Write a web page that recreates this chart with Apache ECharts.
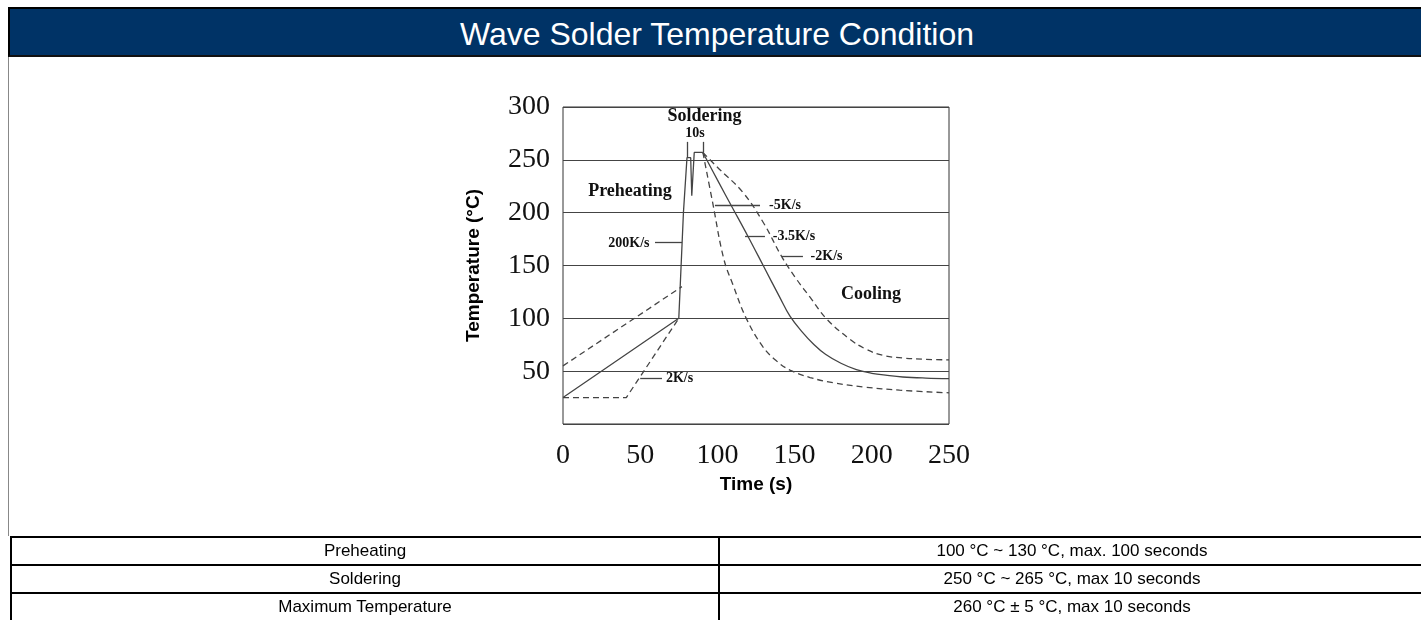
<!DOCTYPE html>
<html>
<head>
<meta charset="utf-8">
<title>Wave Solder Temperature Condition</title>
<script src="https://cdn.jsdelivr.net/npm/echarts/dist/echarts.min.js"></script>
<style>
	body {
		margin: 0;
		width: 1421px;
		height: 620px;
		overflow: hidden;
		background: #ffffff;
		position: relative;
		font-family: 'Liberation Sans', Arial, sans-serif;
	}
	#chart {
		position: absolute;
		left: 0;
		top: 0;
		width: 1421px;
		height: 620px;
	}
	.head {
		position: absolute;
		left: 8px;
		top: 7px;
		width: 1414px;
		height: 44px;
		padding-top: 2px;
		background: #003366;
		border-top: 2px solid #000;
		border-bottom: 2px solid #111;
		border-left: 2px solid #000;
		color: #fff;
		font-size: 32px;
		line-height: 46px;
		text-align: center;
	}
	.side {
		position: absolute;
		left: 8px;
		top: 57px;
		width: 1px;
		height: 479px;
		background: #888;
	}
	.spec {
		position: absolute;
		left: 10px;
		top: 536px;
		width: 1420px;
		border-left: 2px solid #000;
	}
	.spec-row {
		display: flex;
		height: 26px;
		border-top: 2px solid #000;
		font-size: 17px;
		line-height: 26px;
		color: #000;
	}
	.spec-row__name {
		width: 706px;
		border-right: 2px solid #000;
		text-align: center;
	}
	.spec-row__value {
		flex: 1;
		text-align: center;
		padding-right: 8px;
	}
</style>
</head>
<body>
<div id="chart"></div>
<div class="head">Wave Solder Temperature Condition</div>
<div class="side"></div>
<div class="spec" id="spec"></div>

<script>
// axis ticks
const xTicks = [0, 50, 100, 150, 200, 250];
const yTicks = [0, 50, 100, 150, 200, 250, 300];

// profile curves, [time s, temperature °C]
const profileRise = [[0, 25], [75, 100], [78, 200], [80.3, 252], [82.7, 252], [83.4, 216], [84.4, 216], [85, 257], [90.6, 257]];
const coolingMid = [[90.6, 257], [100, 231], [110, 204], [120, 177], [130, 149], [140, 121], [147, 102], [155, 87], [162, 76],
	[170, 66], [180, 57.5], [190, 51.5], [200, 48], [210, 46], [220, 44.5], [235, 43.5], [250, 43]];
const preheatUpper = [[0, 55], [77, 130]];
const preheatLower = [[0, 25], [41, 25], [75, 100]];
const coolingFast = [[90.6, 257], [97, 209], [104, 157], [110, 132], [119, 99], [129.5, 73], [138, 60], [147, 51],
	[160, 44], [175, 39], [195, 35], [218, 32], [250, 29.5]];
const coolingSlow = [[90.6, 257], [100, 243], [116.6, 219], [130, 190], [141.8, 158], [151.5, 136.5], [160, 120],
	[171, 99], [186, 80], [196, 71], [207, 65], [220, 62.5], [235, 61.2], [250, 60.7]];

// "10s" bracket ticks and label leader lines
const tenSecondTicks = [[[80.3, 252], [80.3, 267]], [[90.6, 257], [90.6, 267]]];
const leaderLines = [[[59.6, 171.6], [77.1, 171.6]], [[98.4, 206.6], [127.6, 206.6]], [[117.9, 177.3], [130.8, 177.3]],
	[[141.8, 158.3], [155.4, 158.3]], [[50, 43.6], [64.1, 43.6]]];

// annotations inside the plot
const noteNames = ['Soldering', '10s', 'Preheating', '200K/s', '-5K/s', '-3.5K/s', '-2K/s', '2K/s', 'Cooling'];
const notePoints = [[91.6, 291], [85.5, 275], [43.4, 220], [42.7, 170.6], [143.8, 206.6], [149.6, 177.3], [170.7, 158.3], [75.5, 43.6], [199.5, 122.3]];

// table below the chart
const specNames = ['Preheating', 'Soldering', 'Maximum Temperature'];
const specValues = ['100 °C ~ 130 °C, max. 100 seconds', '250 °C ~ 265 °C, max 10 seconds', '260 °C ± 5 °C, max 10 seconds'];

let html = '';
specNames.forEach((item, index) => {
	html += '<div class="spec-row"><div class="spec-row__name">' + item + '</div><div class="spec-row__value">' + specValues[index] + '</div></div>';
});
document.getElementById('spec').innerHTML = html;

const lineColor = '#444';
const bigNotes = ['Soldering', 'Preheating', 'Cooling'];

function curve(data, dashed, smooth) {
	return {
		type: 'line',
		data: data,
		symbol: 'none',
		silent: true,
		smooth: smooth || false,
		lineStyle: {
			color: lineColor,
			width: 1.3,
			type: dashed ? [6, 4] : 'solid'
		}
	};
}

function segments(list) {
	return list.map(seg => [{ coord: seg[0] }, { coord: seg[1] }]);
}

const myChart = echarts.init(document.getElementById('chart'));
const option = {
	animation: false,
	grid: {
		left: 563,
		right: 472,
		top: 107,
		bottom: 196,
		show: true,
		borderColor: '#333',
		borderWidth: 1
	},
	xAxis: {
		type: 'value',
		min: xTicks[0],
		max: xTicks[xTicks.length - 1],
		interval: 50,
		name: 'Time (s)',
		nameLocation: 'middle',
		nameGap: 50,
		nameTextStyle: {
			fontFamily: 'Liberation Sans',
			fontWeight: 'bold',
			fontSize: 19,
			color: '#000'
		},
		axisLine: { show: false },
		axisTick: { show: false },
		splitLine: { show: false },
		axisLabel: {
			margin: 18,
			fontFamily: 'Liberation Serif',
			fontSize: 28,
			color: '#111'
		}
	},
	yAxis: {
		type: 'value',
		min: yTicks[0],
		max: yTicks[yTicks.length - 1],
		interval: 50,
		name: 'Temperature (°C)',
		nameLocation: 'middle',
		nameGap: 80,
		nameTextStyle: {
			fontFamily: 'Liberation Sans',
			fontWeight: 'bold',
			fontSize: 19,
			color: '#000'
		},
		axisLine: { show: false },
		axisTick: { show: false },
		splitLine: {
			show: true,
			lineStyle: { color: '#444', width: 1.2 }
		},
		axisLabel: {
			margin: 13,
			fontFamily: 'Liberation Serif',
			fontSize: 28,
			color: '#111',
			formatter: function(value) {
				return value === 0 ? '' : value;
			}
		}
	},
	series: [
		curve(preheatUpper, true),
		curve(preheatLower, true),
		curve(coolingFast, true, 0.4),
		curve(coolingSlow, true, 0.4),
		curve(coolingMid, false, 0.4),
		curve(profileRise, false),
		{
			type: 'line',
			data: [],
			silent: true,
			markLine: {
				symbol: 'none',
				silent: true,
				label: { show: false },
				lineStyle: { color: lineColor, width: 1.3, type: 'solid' },
				data: segments(tenSecondTicks.concat(leaderLines))
			}
		},
		{
			type: 'scatter',
			symbolSize: 1,
			silent: true,
			itemStyle: { color: 'transparent', opacity: 1 },
			data: noteNames.map((name, index) => ({
				name: name,
				value: notePoints[index],
				label: {
					fontSize: bigNotes.indexOf(name) > -1 ? 18 : 14
				}
			})),
			label: {
				show: true,
				position: 'inside',
				formatter: p => p.name,
				fontFamily: 'Liberation Serif',
				fontWeight: 'bold',
				color: '#111',
				opacity: 1
			}
		}
	]
};
myChart.setOption(option);
</script>
</body>
</html>
